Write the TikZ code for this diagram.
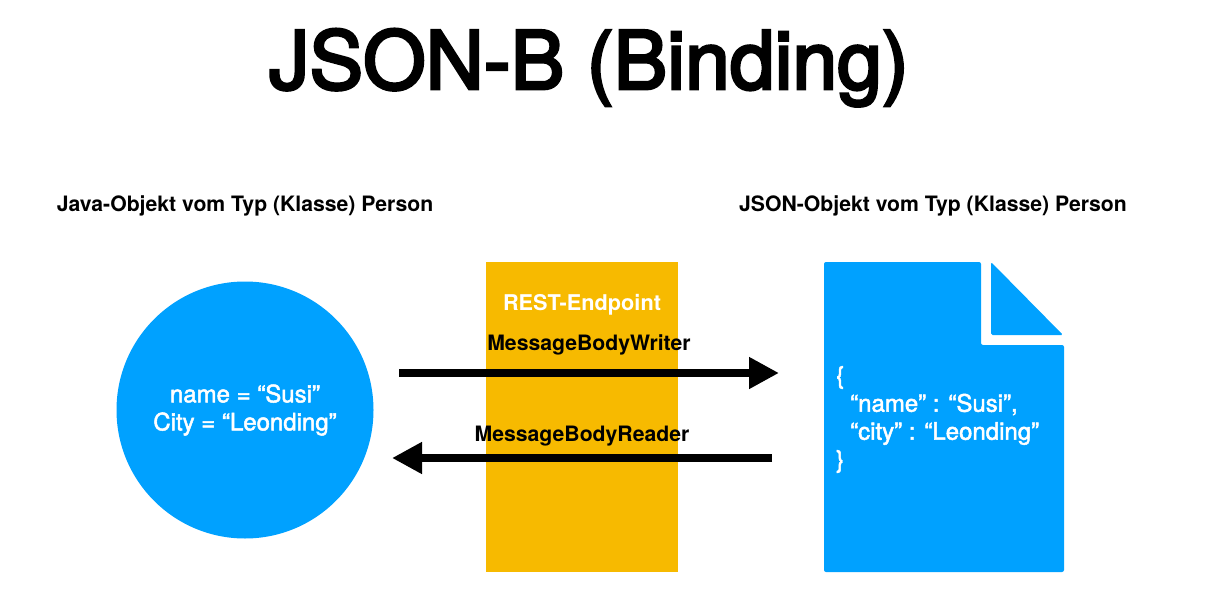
\documentclass[tikz,border=0pt]{standalone}
\usepackage{fontspec}
\setmainfont{TeX Gyre Heros}
\newfontfamily\titlefont[FakeBold=3.5]{TeX Gyre Heros}
\newfontfamily\medfont[FakeBold=2]{TeX Gyre Heros}
\usetikzlibrary{arrows.meta}
\definecolor{jblue}{RGB}{0,161,255}
\definecolor{jorange}{RGB}{247,186,0}
\begin{document}
\begin{tikzpicture}[x=1pt,y=-1pt,
  heading/.style={font=\fontsize{21.2}{24}\selectfont\bfseries, inner sep=0pt, anchor=base},
  bodytxt/.style={font=\medfont\fontsize{24}{28}\selectfont, text=white, inner sep=0pt},
  arrowlbl/.style={font=\fontsize{21.2}{24}\selectfont\bfseries, inner sep=0pt, anchor=base},
  bigarrow/.style={line width=8pt, -{Triangle[length=30pt,width=30pt]}}]
\useasboundingbox (0,0) rectangle (1210,610);
\fill[white] (0,0) rectangle (1210,610);
% title
\node[font=\titlefont\fontsize{80.5}{90}\selectfont, inner sep=0pt, anchor=base] (title) at (589,89) {JSON-B (Binding)};
% headings
\node[heading] (lhead) at (245,211) {Java-Objekt vom Typ (Klasse) Person};
\node[heading] (rhead) at (933,211) {JSON-Objekt vom Typ (Klasse) Person};
% orange endpoint
\fill[jorange] (486,262) rectangle (678,572);
\node[font=\fontsize{21.7}{24}\selectfont\bfseries, text=white, inner sep=0pt, anchor=base] (rest) at (582,310) {REST-Endpoint};
% circle
\node[circle, fill=jblue, minimum size=257pt, inner sep=0pt] (obj) at (245,410) {};
\node[bodytxt, align=center, anchor=center] (objtxt) at (245,410) {name = “Susi”\\City = “Leonding”};
% document
\fill[jblue, rounded corners=2pt] (824,262) -- (981,262) -- (981,345) -- (1064,345) -- (1064,572) -- (824,572) -- cycle;
\fill[jblue, rounded corners=1.5pt] (991,262) -- (1063,335) -- (991,335) -- cycle;
\coordinate (docleft) at (779,373);
\coordinate (docleft2) at (772,458);
\node[bodytxt, align=left, anchor=north west] (json) at (836,366) {\{\\\hspace*{14pt}“name” : “Susi”,\\\hspace*{14pt}“city” : “Leonding”\\\}};
% arrows
\coordinate (wstart) at (399,373);
\coordinate (rend) at (392,458);
\draw[bigarrow] (wstart) -- (docleft);
\draw[bigarrow] (docleft2) -- (rend);
\node[arrowlbl] (writer) at (589,350) {MessageBodyWriter};
\node[arrowlbl] (reader) at (582,441) {MessageBodyReader};
\end{tikzpicture}
\end{document}
